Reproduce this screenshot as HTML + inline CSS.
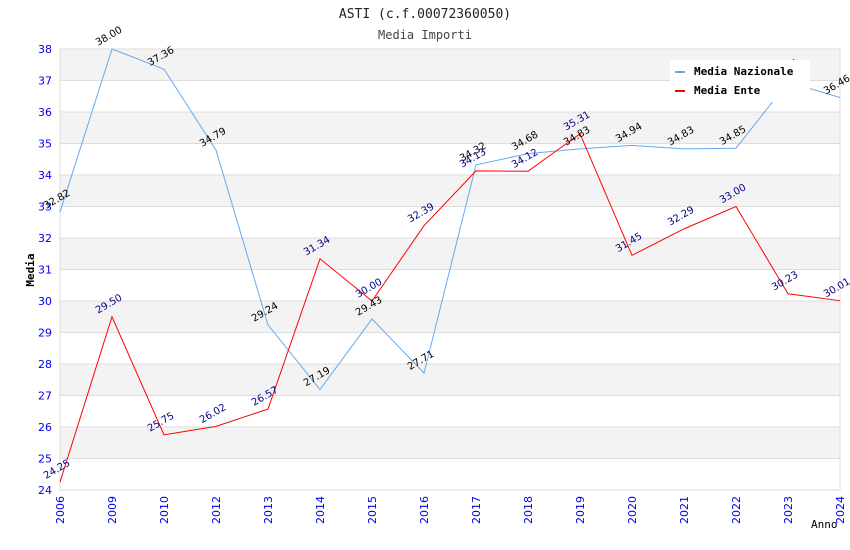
<!DOCTYPE html>
<html><head><meta charset="utf-8"><style>
body{margin:0;background:#fff}
svg{display:block}
</style></head><body>
<svg id="c" width="850" height="550" xmlns="http://www.w3.org/2000/svg">
<text x="425" y="18" text-anchor="middle" font-family="DejaVu Sans Mono, Liberation Mono, monospace" font-size="13" fill="#222">ASTI (c.f.00072360050)</text>
<text x="425" y="39" text-anchor="middle" font-family="DejaVu Sans Mono, Liberation Mono, monospace" font-size="12" fill="#444">Media Importi</text>
<g id="grid"></g><g id="axes"></g><g id="series"></g><g id="labels"></g>
<text x="34" y="270" transform="rotate(-90 34 270)" text-anchor="middle" font-family="DejaVu Sans Mono, monospace" font-weight="bold" font-size="11" fill="#000">Media</text>
<text x="811" y="528" font-family="DejaVu Sans Mono, monospace" font-size="11" fill="#000">Anno</text>
<g>
<rect x="670" y="60" width="140" height="42" fill="#fff"/>
<g><rect x="675" y="71" width="10" height="2" fill="#66aaee"/><text x="694" y="75" font-family="DejaVu Sans Mono, monospace" font-weight="bold" font-size="11">Media Nazionale</text></g>
<g><rect x="675" y="90" width="10" height="2" fill="#ff0000"/><text x="694" y="94" font-family="DejaVu Sans Mono, monospace" font-weight="bold" font-size="11">Media Ente</text></g>
</g>
</svg>
<script>
const categories=["2006","2009","2010","2012","2013","2014","2015","2016","2017","2018","2019","2020","2021","2022","2023","2024"];
const nazionale=[32.82,38.00,37.36,34.79,29.24,27.19,29.43,27.71,34.32,34.68,34.83,34.94,34.83,34.85,36.95,36.46];
const ente=[24.25,29.50,25.75,26.02,26.57,31.34,30.00,32.39,34.13,34.12,35.31,31.45,32.29,33.00,30.23,30.01];
const yTicks=[24,25,26,27,28,29,30,31,32,33,34,35,36,37,38];
const NS="http://www.w3.org/2000/svg";
const L=60,R=840,T=49,B=490,yMin=24,yMax=38;
const x=i=>L+i*(R-L)/(categories.length-1);
const y=v=>B-(v-yMin)*(B-T)/(yMax-yMin);
function mk(tag,attrs,parent){const e=document.createElementNS(NS,tag);for(const k in attrs)e.setAttribute(k,attrs[k]);parent.appendChild(e);return e;}
const grid=document.getElementById('grid'),axes=document.getElementById('axes'),ser=document.getElementById('series'),lab=document.getElementById('labels');
for(let v=yMin;v<yMax;v++){
  const r=mk('rect',{x:L,y:y(v+1),width:R-L,height:y(v)-y(v+1),fill:(v%2===1)?'#f3f3f3':'#ffffff'},grid);
  
  
}
yTicks.forEach(v=>{
  const ln=mk('line',{x1:L,x2:R,y1:y(v),y2:y(v),stroke:'#dddddd','stroke-width':1},grid);
  
  
  const t=mk('text',{x:L-8,y:y(v)+4,'text-anchor':'end','font-family':'DejaVu Sans, Liberation Sans, sans-serif','font-size':11,fill:'#0000ee'},axes);
  t.textContent=v;
  
  
});
const frame=mk('rect',{x:L,y:T,width:R-L,height:B-T,fill:'none',stroke:'#dddddd'},axes);


categories.forEach((c,i)=>{
  const t=mk('text',{x:x(i)+4,y:B+6,transform:`rotate(-90 ${x(i)+4} ${B+6})`,'text-anchor':'end','font-family':'DejaVu Sans, Liberation Sans, sans-serif','font-size':11,fill:'#0000ee'},axes);
  t.textContent=c;
  
  
});
function series(data,color,lblColor,name){
  const p=mk('polyline',{points:data.map((v,i)=>x(i)+','+y(v)).join(' '),fill:'none',stroke:color,'stroke-width':1},ser);
  
  
  data.forEach((v,i)=>{
    const px=x(i)-14,py=y(v)-3;
    const t=mk('text',{x:px,y:py,transform:`rotate(-30 ${px} ${py})`,'font-family':'DejaVu Sans, Liberation Sans, sans-serif','font-size':10,fill:lblColor},lab);
    t.textContent=v.toFixed(2);
    
    
  });
}
series(nazionale,'#66aaee','#000','nazionale');
series(ente,'#ff0000','#000088','ente');
</script>
</body></html>
